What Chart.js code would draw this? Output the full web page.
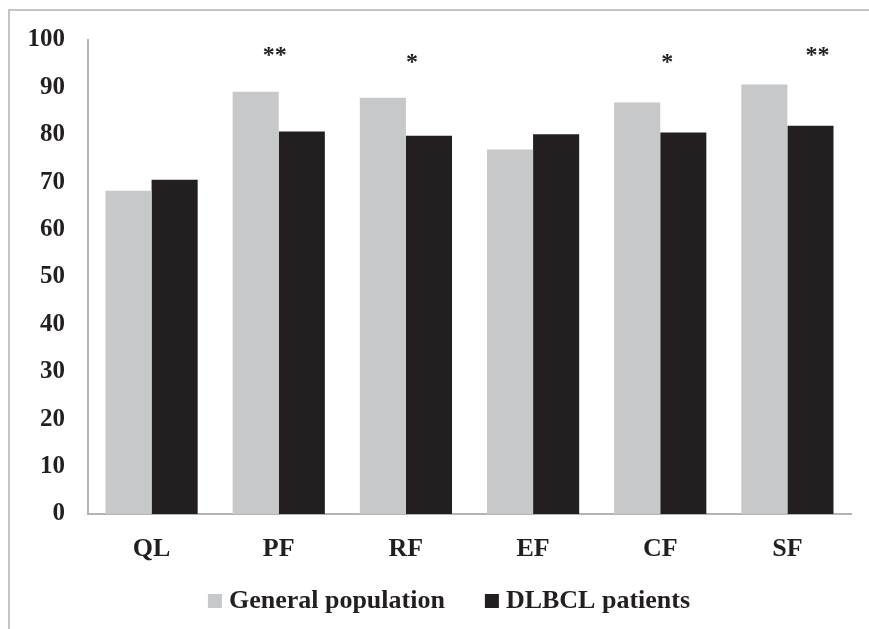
<!DOCTYPE html>
<html>
<head>
<meta charset="utf-8">
<script src="https://cdn.jsdelivr.net/npm/chart.js@4.4.1/dist/chart.umd.min.js"></script>
<style>
  html, body { margin: 0; padding: 0; background: #ffffff; overflow: hidden; }
  #wrap { position: relative; width: 869px; height: 629px; overflow: hidden; }
  #frame { position: absolute; left: 8px; top: 9px; width: 2000px; height: 2000px;
           border-left: 2px solid #c4c4c4; border-top: 2px solid #c4c4c4; }
  canvas { position: absolute; left: 0; top: 0; }
</style>
</head>
<body>
<div id="wrap">
  <div id="frame"></div>
  <canvas id="c" width="869" height="629"></canvas>
</div>
<script>
// ---- data ----
const categories = ['QL', 'PF', 'RF', 'EF', 'CF', 'SF'];
const generalPopulation = [68.2, 89.1, 87.8, 76.9, 86.8, 90.6];
const dlbclPatients = [70.5, 80.7, 79.8, 80.1, 80.5, 81.9];
const yTicks = [0, 10, 20, 30, 40, 50, 60, 70, 80, 90, 100];
const seriesNames = ['General population', 'DLBCL patients'];
const starCategories = ['PF', 'RF', 'CF', 'SF'];
const starMarks = ['**', '*', '*', '**'];
const starLevels = [97.7, 96.2, 96.2, 97.7];

// ---- styles ----
const GREY = '#c7c8ca';
const DARK = '#231f20';
const AXIS = '#b4b4b4';
const FONT = '"Liberation Serif", "Times New Roman", serif';
const starDx = [-4, 6, 7, 30];

const starPlugin = {
  id: 'stars',
  afterDatasetsDraw(chart) {
    const ctx = chart.ctx;
    const xs = chart.scales.x, ys = chart.scales.y;
    ctx.save();
    ctx.fillStyle = DARK;
    ctx.font = 'bold 24px ' + FONT;
    ctx.textAlign = 'center';
    ctx.textBaseline = 'middle';
    starCategories.forEach((cat, i) => {
      const x = xs.getPixelForValue(categories.indexOf(cat)) + starDx[i];
      const y = ys.getPixelForValue(starLevels[i]) + 5;
      ctx.fillText(starMarks[i], x, y);
    });
    ctx.restore();
  }
};

const legendPlugin = {
  id: 'customLegend',
  afterDraw(chart) {
    const ctx = chart.ctx;
    ctx.save();
    ctx.font = 'bold 26px ' + FONT;
    ctx.textBaseline = 'middle';
    ctx.textAlign = 'left';
    const box = 14, gapText = 7, gapItem = 40, yMid = 601;
    const colors = chart.data.datasets.map(d => d.backgroundColor);
    const widths = seriesNames.map(n => ctx.measureText(n).width);
    let total = 0;
    widths.forEach((w, i) => { total += box + gapText + w + (i < widths.length - 1 ? gapItem : 0); });
    let x = 449 - total / 2;
    seriesNames.forEach((n, i) => {
      ctx.fillStyle = colors[i];
      ctx.fillRect(x, yMid - box / 2, box, box);
      ctx.fillStyle = DARK;
      ctx.fillText(n, x + box + gapText, yMid);
      x += box + gapText + widths[i] + gapItem;
    });
    ctx.restore();
  }
};

new Chart(document.getElementById('c'), {
  type: 'bar',
  data: {
    labels: categories,
    datasets: [
      { label: seriesNames[0], data: generalPopulation, backgroundColor: GREY, borderWidth: 0 },
      { label: seriesNames[1], data: dlbclPatients, backgroundColor: DARK, borderWidth: 0 }
    ]
  },
  options: {
    responsive: false,
    animation: false,
    devicePixelRatio: 1,
    layout: { padding: { top: 40, right: 18, bottom: 0, left: 0 } },
    datasets: { bar: { categoryPercentage: 0.725, barPercentage: 1.0 } },
    plugins: { legend: { display: false }, tooltip: { enabled: false } },
    scales: {
      x: {
        grid: { display: false, drawTicks: false },
        border: { display: true, color: AXIS, width: 2 },
        ticks: { color: DARK, font: { family: FONT, size: 26, weight: 'bold' }, padding: 20 },
        afterFit(s) { s.height = 115; }
      },
      y: {
        min: 0, max: 100,
        grid: { display: false, drawTicks: false },
        border: { display: true, color: AXIS, width: 2 },
        afterBuildTicks(s) { s.ticks = yTicks.map(v => ({ value: v })); },
        ticks: { color: DARK, font: { family: FONT, size: 25, weight: 'bold' }, padding: 23 },
        afterFit(s) { s.width = 88; }
      }
    }
  },
  plugins: [starPlugin, legendPlugin]
});
</script>
</body>
</html>
